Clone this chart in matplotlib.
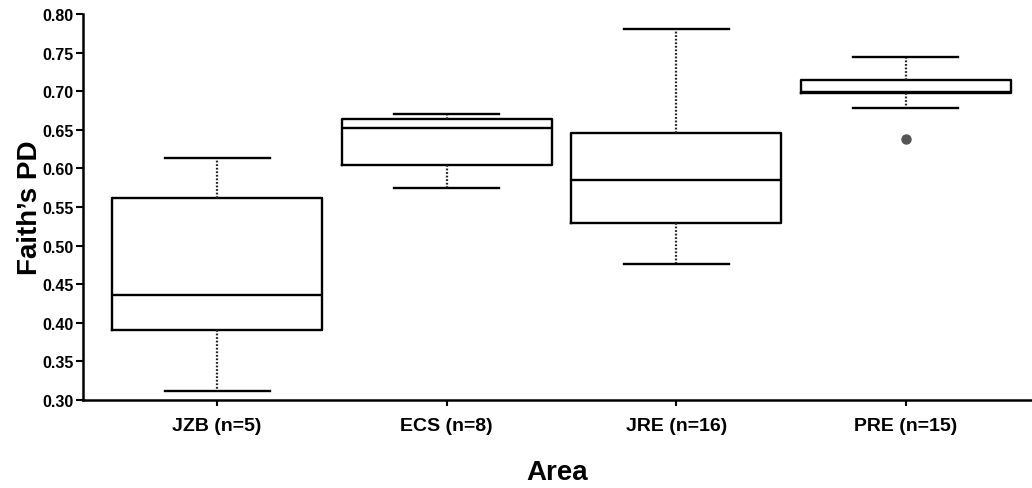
import matplotlib
matplotlib.use("Agg")
import matplotlib.pyplot as plt

plt.rcParams['font.family'] = ['Liberation Sans', 'DejaVu Sans']
plt.rcParams['font.weight'] = 'bold'

# ---- data ----
areas = ["JZB (n=5)", "ECS (n=8)", "JRE (n=16)", "PRE (n=15)"]
whisker_low = [0.312, 0.574, 0.476, 0.678]
q1 = [0.391, 0.605, 0.529, 0.698]
median = [0.436, 0.652, 0.585, 0.699]
q3 = [0.562, 0.664, 0.646, 0.715]
whisker_high = [0.614, 0.670, 0.780, 0.744]
outliers = [[], [], [], [0.638]]

yticks = [0.30, 0.35, 0.40, 0.45, 0.50, 0.55, 0.60, 0.65, 0.70, 0.75, 0.80]

stats = []
for lab, lo, a, m, b, hi, fl in zip(areas, whisker_low, q1, median, q3, whisker_high, outliers):
    stats.append(dict(label=lab, whislo=lo, q1=a, med=m, q3=b, whishi=hi, fliers=fl))

fig = plt.figure(figsize=(10.32, 4.89), dpi=100)
ax = fig.add_axes([83/1032, 88/489, 1 - 83/1032, (401-15)/489])

positions = list(range(1, len(areas) + 1))
ax.bxp(stats, positions=positions, widths=0.915, capwidths=0.4575,
       boxprops=dict(color='black', linewidth=1.7),
       medianprops=dict(color='black', linewidth=1.7),
       whiskerprops=dict(color='#222222', linewidth=1.6, linestyle=(0, (0.8, 0.8))),
       capprops=dict(color='black', linewidth=1.7),
       flierprops=dict(marker='o', markerfacecolor='#555555', markeredgecolor='#555555',
                       markersize=6.5))

ax.set_xlim(0.416, 4.55)
ax.set_ylim(0.30, 0.80)
ax.set_yticks(yticks)
ax.set_yticklabels([f"{v:.2f}" for v in yticks])
ax.set_xticks(positions)
ax.set_xticklabels(areas)

for s in ['top', 'right']:
    ax.spines[s].set_visible(False)
for s in ['left', 'bottom']:
    ax.spines[s].set_linewidth(1.8)
    ax.spines[s].set_color('black')

ax.tick_params(axis='y', length=5, width=1.5, pad=1.5, labelsize=11.5)
ax.tick_params(axis='x', length=4.5, width=1.5, pad=8, labelsize=14)
for t in ax.get_xticklabels() + ax.get_yticklabels():
    t.set_fontweight('bold')

ax.set_ylabel("Faith\u2019s PD", fontsize=20, fontweight='bold')
ax.yaxis.set_label_coords(-0.042, 0.5)
ax.set_xlabel("Area", fontsize=20, fontweight='bold')
ax.xaxis.set_label_coords(0.5, -0.152)

fig.savefig("out.png", dpi=100)
